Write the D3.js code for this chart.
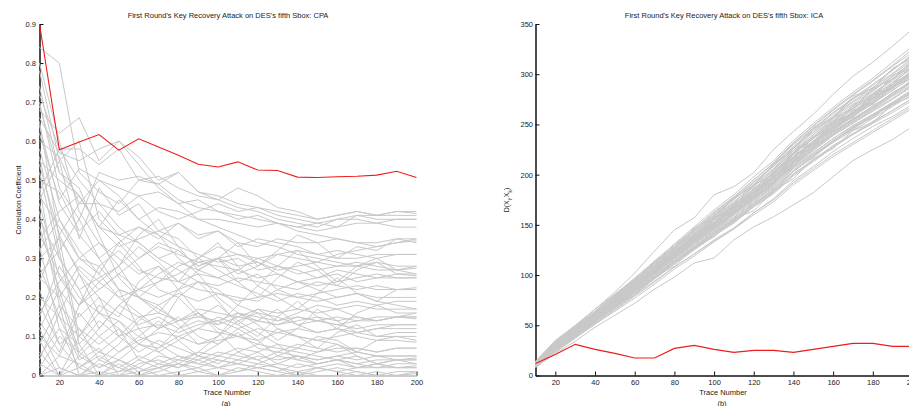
<!DOCTYPE html>
<html>
<head>
<meta charset="utf-8">
<script src="https://cdn.jsdelivr.net/npm/d3@7"></script>
<style>
  html, body { margin: 0; padding: 0; background: #fff; }
  svg { display: block; }
  text { font-family: "Liberation Sans", Arial, sans-serif; fill: #222; }
</style>
</head>
<body>
<svg id="chart" width="909" height="406"></svg>
<script>
// ---------------- DATA ----------------
const traceNumbers = [10,20,30,40,50,60,70,80,90,100,110,120,130,140,150,160,170,180,190,200];
const xTickValues = [20,40,60,80,100,120,140,160,180,200];
const cpaYTicks = [0,0.1,0.2,0.3,0.4,0.5,0.6,0.7,0.8,0.9];
const icaYTicks = [0,50,100,150,200,250,300,350];

const titleCPA = "First Round's Key Recovery Attack on DES's fifth Sbox: CPA";
const titleICA = "First Round's Key Recovery Attack on DES's fifth Sbox: ICA";

// correct key (red)
const cpaCorrect = [0.90,0.578,0.598,0.617,0.577,0.606,0.585,0.564,0.541,0.534,0.547,0.526,0.525,0.508,0.507,0.509,0.510,0.513,0.523,0.507];
// wrong keys (grey)
const cpaWrong = [
 [.84,.80,.52,.47,.44,.50,.49,.45,.43,.42,.41,.40,.39,.38,.39,.40,.41,.41,.42,.42],
 [.68,.62,.66,.55,.60,.56,.50,.52,.47,.46,.44,.43,.42,.41,.40,.41,.42,.41,.42,.415],
 [.72,.58,.58,.54,.58,.50,.51,.48,.46,.45,.43,.42,.40,.39,.38,.40,.40,.39,.40,.40],
 [.60,.56,.44,.44,.42,.46,.42,.40,.42,.44,.42,.43,.41,.40,.39,.38,.41,.40,.40,.40],
 [.55,.50,.46,.38,.45,.40,.43,.42,.40,.40,.39,.38,.39,.38,.37,.38,.39,.39,.38,.38],
 [.50,.47,.37,.42,.36,.38,.35,.39,.36,.37,.34,.33,.35,.34,.34,.35,.34,.34,.35,.35],
 [.62,.45,.53,.50,.48,.46,.47,.44,.45,.42,.40,.41,.39,.37,.36,.35,.34,.33,.34,.345],
 [.46,.38,.30,.34,.28,.36,.40,.33,.27,.30,.34,.28,.32,.36,.34,.30,.33,.32,.35,.34],
 [.35,.42,.46,.38,.36,.34,.30,.32,.28,.30,.31,.30,.31,.32,.31,.30,.30,.31,.31,.31],
 [.78,.55,.60,.40,.35,.30,.33,.31,.29,.30,.28,.29,.27,.28,.29,.28,.28,.29,.28,.28],
 [.40,.30,.22,.25,.28,.33,.29,.24,.30,.34,.28,.23,.28,.32,.28,.24,.28,.30,.27,.275],
 [.25,.20,.28,.24,.28,.20,.16,.22,.27,.30,.24,.20,.25,.29,.27,.23,.27,.29,.26,.26],
 [.30,.35,.27,.22,.26,.22,.24,.26,.29,.28,.27,.30,.28,.27,.25,.27,.26,.25,.26,.255],
 [.58,.40,.30,.28,.32,.27,.25,.24,.26,.25,.27,.25,.26,.24,.25,.26,.24,.25,.25,.25],
 [.44,.25,.18,.24,.20,.22,.20,.22,.24,.23,.25,.24,.23,.22,.24,.23,.22,.23,.22,.225],
 [.20,.15,.10,.18,.15,.24,.28,.22,.16,.13,.18,.23,.20,.17,.21,.25,.21,.19,.22,.22],
 [.15,.28,.20,.16,.22,.20,.18,.21,.19,.21,.19,.20,.21,.20,.19,.20,.21,.20,.20,.20],
 [.52,.30,.22,.12,.18,.15,.16,.14,.17,.16,.15,.17,.16,.17,.16,.17,.18,.17,.17,.17],
 [.10,.05,.16,.10,.14,.08,.12,.20,.24,.19,.13,.10,.15,.19,.15,.12,.16,.18,.16,.16],
 [.65,.35,.10,.06,.10,.15,.12,.14,.15,.14,.16,.15,.14,.15,.14,.15,.14,.15,.15,.15],
 [.05,.12,.08,.14,.10,.12,.13,.11,.13,.14,.12,.14,.13,.14,.15,.14,.15,.14,.15,.15],
 [.38,.22,.15,.20,.16,.13,.15,.12,.14,.13,.15,.14,.13,.15,.14,.13,.14,.14,.15,.145],
 [.22,.08,.12,.04,.08,.14,.18,.13,.08,.10,.16,.13,.09,.12,.17,.14,.11,.12,.13,.13],
 [.48,.20,.05,.10,.06,.09,.11,.10,.12,.11,.10,.12,.11,.12,.11,.12,.11,.12,.12,.12],
 [.08,.18,.12,.08,.12,.04,.07,.12,.16,.11,.06,.08,.12,.10,.07,.11,.13,.10,.11,.11],
 [.33,.12,.02,.06,.04,.08,.07,.10,.08,.09,.10,.09,.11,.10,.09,.10,.11,.10,.10,.10],
 [.02,.10,.06,.02,.06,.10,.14,.09,.05,.08,.12,.09,.05,.07,.10,.09,.06,.09,.09,.085],
 [.56,.32,.08,.00,.04,.02,.05,.04,.06,.05,.07,.06,.08,.07,.06,.07,.07,.06,.07,.07],
 [.12,.02,.00,.04,.02,.05,.03,.05,.04,.06,.05,.04,.06,.05,.04,.05,.06,.05,.05,.05],
 [.28,.15,.04,.07,.00,.03,.04,.02,.05,.04,.03,.05,.04,.05,.04,.05,.04,.05,.04,.045],
 [.00,.05,.03,.00,.03,.00,.02,.04,.03,.02,.04,.03,.05,.04,.03,.04,.03,.04,.04,.04],
 [.42,.18,.00,.03,.01,.04,.02,.03,.02,.04,.03,.02,.03,.02,.03,.04,.03,.02,.03,.03],
 [.06,.00,.05,.02,.04,.01,.03,.02,.04,.02,.03,.02,.01,.03,.02,.03,.02,.03,.02,.025],
 [.18,.08,.02,.05,.02,.00,.01,.03,.01,.02,.01,.03,.02,.01,.02,.01,.02,.02,.02,.02],
 [.03,.00,.02,.00,.01,.02,.00,.01,.02,.00,.01,.02,.01,.00,.01,.02,.01,.00,.01,.01],
 [.00,.02,.00,.01,.00,.01,.02,.00,.01,.00,.02,.01,.00,.01,.00,.00,.01,.00,.00,.005],
 [.70,.48,.40,.52,.50,.51,.49,.52,.47,.45,.48,.46,.43,.42,.40,.41,.42,.41,.41,.41],
 [.45,.55,.35,.48,.41,.44,.37,.35,.30,.27,.24,.26,.22,.20,.21,.22,.23,.22,.22,.22],
 [.26,.32,.40,.30,.34,.28,.22,.20,.15,.18,.14,.16,.12,.10,.09,.08,.06,.05,.05,.05],
 [.64,.44,.36,.30,.22,.20,.17,.14,.16,.12,.10,.08,.07,.06,.05,.04,.05,.03,.04,.04],
 [.16,.24,.30,.26,.34,.38,.36,.33,.31,.29,.30,.27,.28,.26,.27,.28,.29,.28,.27,.28],
 [.36,.26,.18,.22,.26,.30,.34,.32,.28,.30,.26,.28,.31,.30,.29,.31,.32,.33,.34,.35],
 [.54,.36,.26,.16,.12,.08,.06,.09,.12,.15,.13,.17,.14,.16,.18,.17,.15,.14,.15,.16],
 [.12,.22,.06,.12,.18,.22,.26,.29,.27,.25,.23,.21,.19,.21,.20,.18,.19,.18,.19,.19],
 [.80,.60,.42,.34,.30,.26,.28,.24,.22,.21,.20,.19,.22,.24,.23,.24,.25,.26,.25,.25],
 [.04,.16,.26,.20,.10,.06,.09,.07,.05,.03,.06,.04,.02,.00,.02,.01,.00,.01,.00,.01],
 [.32,.40,.32,.26,.20,.16,.12,.15,.10,.08,.11,.07,.06,.08,.07,.06,.07,.06,.07,.07],
 [.47,.58,.50,.44,.38,.34,.30,.27,.24,.22,.18,.16,.15,.13,.14,.13,.12,.13,.13,.13],
 [.74,.52,.46,.38,.33,.35,.37,.39,.35,.37,.33,.35,.34,.33,.31,.32,.31,.30,.31,.31],
 [.09,.00,.10,.16,.14,.10,.08,.05,.03,.05,.04,.06,.03,.05,.03,.04,.02,.03,.02,.02],
 [.66,.57,.55,.58,.60,.54,.48,.44,.40,.38,.36,.34,.33,.31,.30,.29,.28,.27,.27,.26],
 [.69,.52,.48,.36,.25,.20,.24,.28,.30,.33,.31,.29,.26,.24,.22,.20,.21,.19,.18,.17],
 [.24,.36,.44,.50,.46,.40,.36,.30,.26,.20,.16,.14,.17,.13,.11,.12,.10,.09,.10,.09],
 [.14,.06,.18,.28,.22,.12,.06,.03,.06,.10,.14,.11,.08,.04,.06,.08,.05,.03,.04,.03]
];

const icaCorrect = [12,21,31,26,22,17.5,17.5,27,30,26,23,25,25,23,26,29,32,32,29,29];
const icaWrong = [
 [13,34,49,66,83,102,124,145,157,180,188,202,225,243,260,280,298,312,328,345],
 [8,22,34,48,60,72,86,98,112,117,135,148,158,170,182,198,214,225,235,248],
 [12,31,46,62,80,92,114,126,147,158,177,189,211,226,247,257,278,286,305,318],
 [10,27,41,55,70,84,99,114,128,142,155,170,184,203,218,232,244,256,268,280],
 [14,33,47,63,79,96,113,130,146,163,178,195,212,232,249,265,280,294,309,325],
 [9,25,39,53,67,81,96,111,125,139,152,168,182,200,214,228,240,252,264,276],
 [11,30,44,57,74,90,103,125,135,157,163,187,195,222,233,253,261,280,287,304],
 [12,28,42,59,72,86,103,118,133,148,160,177,192,211,226,241,254,266,279,292],
 [13,32,45,60,76,91,108,124,139,156,170,186,203,222,240,254,268,283,298,312],
 [10,26,40,56,71,85,101,117,131,146,158,175,189,208,222,236,249,260,272,285],
 [11,29,44,59,75,89,105,121,138,152,167,183,199,218,233,249,263,276,290,303],
 [9,24,38,52,66,80,94,108,121,134,146,160,173,190,204,218,230,242,254,266],
 [12,30,45,60,76,92,108,125,141,157,171,188,205,226,242,257,272,285,300,314],
 [14,35,50,66,81,95,109,124,139,153,168,186,201,221,236,250,266,280,296,310],
 [10,28,43,57,72,87,102,118,133,149,161,178,193,212,228,243,256,268,281,294],
 [11,29,42,58,73,86,104,119,135,151,164,180,194,213,229,245,258,271,284,298],
 [12,31,45,60,74,90,105,122,136,150,165,182,197,217,232,247,261,274,288,301],
 [8,23,37,51,64,77,91,106,119,133,146,162,176,194,208,223,236,248,258,270],
 [13,32,47,63,79,95,112,128,145,161,176,193,209,230,246,262,276,290,304,320],
 [10,27,42,56,70,85,100,116,130,145,157,174,188,207,221,236,248,260,272,284],
 [11,30,44,58,74,89,104,121,136,152,165,181,197,216,233,247,260,273,287,300],
 [12,29,43,59,73,88,105,120,135,149,163,179,196,214,230,244,258,271,284,297],
 [9,26,40,54,68,82,97,112,126,141,154,170,185,204,219,233,246,258,270,282],
 [13,33,48,63,78,94,110,127,142,159,173,190,206,227,243,259,273,287,301,316],
 [11,28,43,57,72,88,103,119,134,148,162,178,193,213,228,242,255,267,280,293],
 [12,31,45,61,77,92,108,124,140,156,169,186,202,222,238,253,268,281,295,309],
 [10,27,41,55,69,84,99,115,129,144,156,173,187,206,220,234,247,259,271,283],
 [11,30,44,60,74,89,106,122,137,153,166,183,198,218,233,249,262,275,288,302],
 [14,34,48,64,81,97,114,131,148,165,180,198,214,234,251,267,282,296,312,328],
 [9,25,38,52,65,79,93,108,121,135,147,162,175,192,206,220,232,244,256,268],
 [12,29,44,58,73,87,103,118,134,147,161,177,191,210,225,240,253,265,278,290],
 [10,28,42,58,72,88,104,119,135,151,164,181,196,216,231,246,259,272,286,299],
 [13,31,46,61,77,93,109,126,141,158,172,189,204,224,240,256,270,284,298,311],
 [11,29,43,57,71,86,101,117,132,146,160,176,191,209,224,239,251,263,275,288],
 [12,30,44,59,75,90,106,122,138,153,167,184,200,220,236,251,265,278,292,306],
 [10,26,41,55,69,83,98,113,127,141,153,169,183,201,215,229,241,253,264,276],
 [11,30,45,61,76,91,107,123,139,155,169,186,201,221,237,252,266,280,294,307],
 [12,28,43,57,72,86,102,117,132,147,160,176,190,209,224,239,252,264,276,289],
 [13,33,46,62,78,93,110,127,143,160,175,192,208,228,245,261,275,289,304,319],
 [9,24,39,54,68,83,97,112,126,140,152,168,181,199,213,227,240,251,262,274],
 [12,30,45,61,75,92,106,124,138,157,168,190,200,224,236,256,266,286,295,314],
 [11,28,42,59,71,90,102,121,133,153,163,182,193,215,228,248,258,276,287,302],
 [10,27,44,56,74,86,105,117,137,148,167,178,199,212,234,244,264,272,292,300],
 [12,31,43,62,72,92,104,124,134,156,166,186,196,220,230,252,260,280,290,308],
 [9,26,40,53,69,80,98,109,127,138,156,164,184,196,216,226,244,252,270,278],
 [11,29,45,58,75,88,107,119,138,150,166,179,198,213,233,244,262,270,288,296],
 [12,30,43,60,72,91,103,122,133,155,162,185,193,218,227,250,257,279,285,305],
 [10,28,42,57,73,86,103,118,134,147,163,176,194,209,227,240,256,266,282,292],
 [13,32,47,62,79,94,111,127,144,158,176,190,210,224,245,256,276,286,306,316],
 [10,27,40,56,70,84,98,114,128,143,155,171,186,204,219,233,247,257,271,281],
 [11,29,44,59,73,90,104,121,135,152,164,183,196,217,231,249,261,277,289,304],
 [12,31,44,61,76,89,108,121,140,151,171,181,203,214,238,246,270,276,299,306],
 [9,25,40,55,68,84,97,114,127,143,154,172,184,204,217,234,245,259,269,283],
 [14,33,49,64,80,96,112,129,145,162,177,195,211,231,248,264,279,293,308,322],
 [11,28,43,58,72,88,102,119,133,149,161,179,192,212,226,243,254,269,280,295]
];

// ---------------- DRAW ----------------
const svg = d3.select("#chart");
const FONT = 7.5;

function panel(opts) {
  const g = svg.append("g");
  const x = d3.scaleLinear().domain([10, 200]).range([opts.x0, opts.x1]);
  const y = d3.scaleLinear().domain(opts.yDomain).range([375.5, 24]);

  const xAxis = d3.axisBottom(x).tickValues(xTickValues).tickSizeInner(-4).tickSizeOuter(0).tickPadding(4).tickFormat(d3.format("d"));
  const yAxis = d3.axisLeft(y).tickValues(opts.yTicks).tickSizeInner(-4).tickSizeOuter(0).tickPadding(opts.yPad).tickFormat(opts.yFmt);

  const gx = g.append("g").attr("transform", `translate(0,${y(0)})`).call(xAxis);
  const gy = g.append("g").attr("transform", `translate(${x(10)},0)`).call(yAxis);
  [gx, gy].forEach(a => {
    a.selectAll("text").style("font-size", FONT + "px").attr("fill", "#222");
    a.selectAll(".tick line").attr("stroke", "#111").attr("stroke-width", 1);
  });
  gx.select(".domain").attr("stroke", opts.xDomainColor).attr("stroke-width", 1.3);
  gy.select(".domain").attr("stroke", "#111").attr("stroke-width", 1.5);

  const line = d3.line().x((d, i) => x(traceNumbers[i])).y(d => y(d));

  g.append("g").selectAll("path").data(opts.wrong).join("path")
    .attr("d", line).attr("fill", "none").attr("stroke", "#c8c8c8").attr("stroke-width", 1);
  g.append("path").datum(opts.correct).attr("d", line)
    .attr("fill", "none").attr("stroke", "#ee1c1c").attr("stroke-width", 1.1);

  const cx = (opts.x0 + opts.x1) / 2;
  g.append("text").attr("x", cx).attr("y", 18).attr("text-anchor", "middle")
    .style("font-size", FONT + "px").text(opts.title);
  g.append("text").attr("x", cx - 1).attr("y", 395).attr("text-anchor", "middle")
    .style("font-size", FONT + "px").text("Trace Number");
  g.append("text").attr("x", cx - 2).attr("y", 405.5).attr("text-anchor", "middle")
    .style("font-size", FONT + "px").text(opts.sub);
  return g;
}

panel({
  x0: 39.5, x1: 416.5, yDomain: [0, 0.9], yTicks: cpaYTicks, yPad: 3.5,
  yFmt: d => d === 0 ? "0" : d3.format(".1f")(d),
  wrong: cpaWrong, correct: cpaCorrect, title: titleCPA, sub: "(a)",
  xDomainColor: "#bdbdbd"
});
svg.append("text").attr("transform", "translate(20.5,200) rotate(-90)")
  .attr("text-anchor", "middle").style("font-size", "7px").text("Correlation Coefficient");

panel({
  x0: 535.5, x1: 912.5, yDomain: [0, 350], yTicks: icaYTicks, yPad: 2.5,
  yFmt: d3.format("d"),
  wrong: icaWrong, correct: icaCorrect, title: titleICA, sub: "(b)",
  xDomainColor: "#111"
});
const lab = svg.append("text").attr("transform", "translate(509,200) rotate(-90)")
  .attr("text-anchor", "middle").style("font-size", "7px");
lab.append("tspan").text("D(X");
lab.append("tspan").attr("baseline-shift", "sub").style("font-size", "5px").text("i");
lab.append("tspan").text(",X");
lab.append("tspan").attr("baseline-shift", "sub").style("font-size", "5px").text("k");
lab.append("tspan").text(")");
</script>
</body>
</html>
